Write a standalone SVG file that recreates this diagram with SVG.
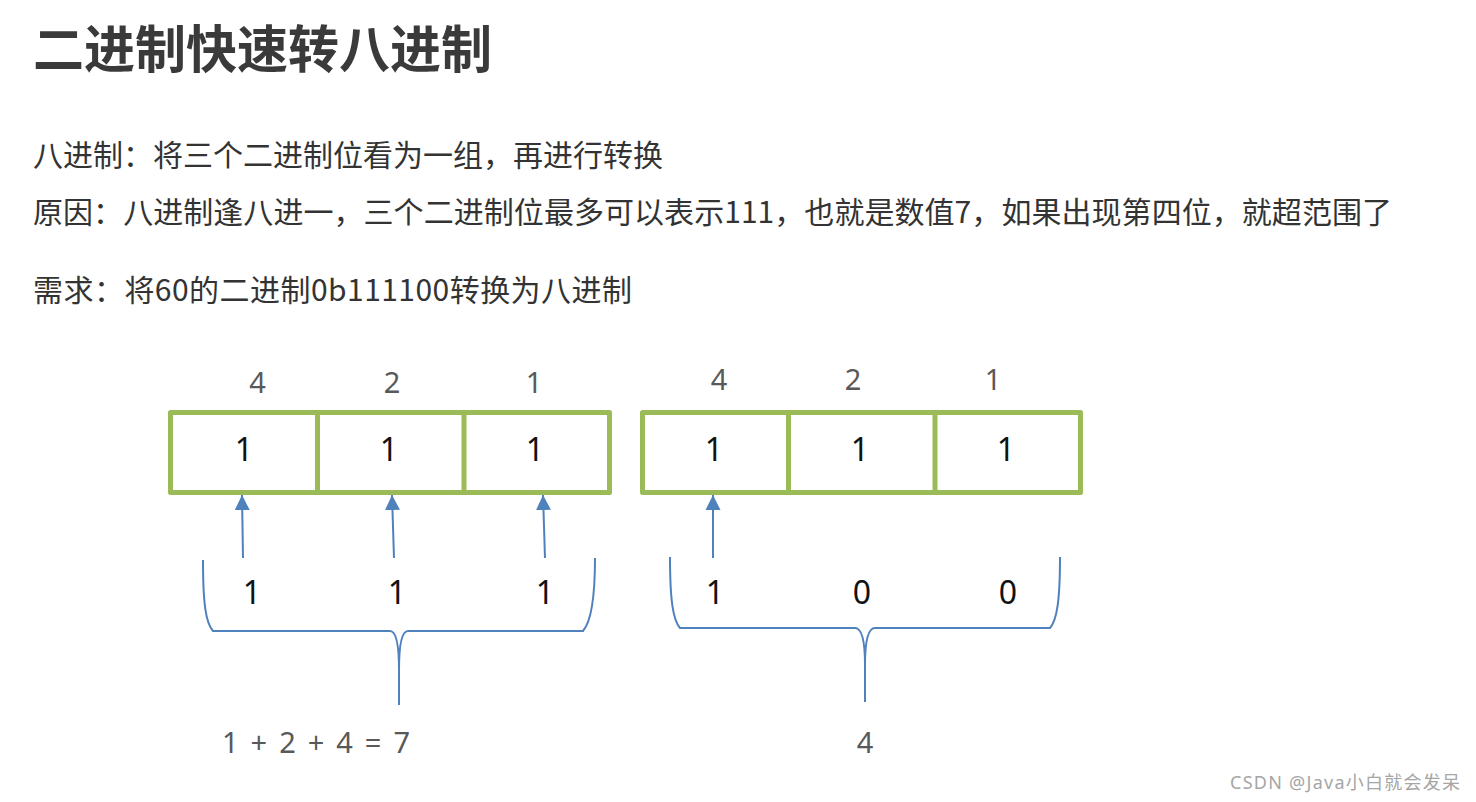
<svg xmlns="http://www.w3.org/2000/svg" width="1476" height="802" viewBox="0 0 1476 802">
<defs>
<marker id="ah" markerUnits="userSpaceOnUse" markerWidth="18" markerHeight="18" viewBox="0 0 18 18" refX="15" refY="9" orient="auto">
<path d="M0,1.5 L15,9 L0,16.5 Z" fill="#4f81bd"/>
</marker>
</defs>
<style>
.cjk{font-family:"Noto Sans CJK SC","Noto Sans",sans-serif;fill:#333}
.title{font-size:51px;font-weight:700;fill:#3a3a3a}
.body{font-size:30px}
.box{fill:#fff;stroke:#9bbb59;stroke-width:5;stroke-linejoin:round}
.div{stroke:#9bbb59;stroke-width:5}
.num{font-family:"Noto Sans","Open Sans",sans-serif;font-size:32px;fill:#111;text-anchor:middle}
.wt{font-family:"Noto Sans","Open Sans",sans-serif;font-size:29px;fill:#595959;text-anchor:middle}
.conn{fill:none;stroke:#4f81bd;stroke-width:2}
.wm{font-family:"Noto Sans","Noto Sans CJK SC",sans-serif;font-size:18px;fill:#a6a6a6}
</style>
<rect width="1476" height="802" fill="#fff"/>
<text class="cjk title" x="33" y="68">二进制快速转八进制</text>
<text class="cjk body" x="33" y="166">八进制：将三个二进制位看为一组，再进行转换</text>
<text class="cjk body" x="33" y="223" textLength="1359" lengthAdjust="spacing">原因：八进制逢八进一，三个二进制位最多可以表示111，也就是数值7，如果出现第四位，就超范围了</text>
<text class="cjk body" x="33" y="301" textLength="599" lengthAdjust="spacing">需求：将60的二进制0b111100转换为八进制</text>

<g id="left-box">
<rect class="box" x="170.5" y="412.5" width="439" height="80"/>
<line class="div" x1="317.5" y1="412.5" x2="317.5" y2="492.5"/>
<line class="div" x1="464" y1="412.5" x2="464" y2="492.5"/>
<text class="wt" x="257.5" y="393">4</text>
<text class="wt" x="392" y="393">2</text>
<text class="wt" x="534" y="393">1</text>
<text class="num" x="244" y="461">1</text>
<text class="num" x="389" y="461">1</text>
<text class="num" x="535" y="461">1</text>
</g>
<g id="right-box">
<rect class="box" x="642.5" y="412.5" width="438" height="80"/>
<line class="div" x1="788.5" y1="412.5" x2="788.5" y2="492.5"/>
<line class="div" x1="935" y1="412.5" x2="935" y2="492.5"/>
<text class="wt" x="719" y="390">4</text>
<text class="wt" x="853" y="390">2</text>
<text class="wt" x="993" y="390">1</text>
<text class="num" x="714" y="461">1</text>
<text class="num" x="860" y="461">1</text>
<text class="num" x="1006" y="461">1</text>
</g>
<g id="left-bits">
<text class="num" x="252" y="604">1</text>
<text class="num" x="397" y="604">1</text>
<text class="num" x="545" y="604">1</text>
</g>
<g id="right-bits">
<text class="num" x="715" y="604">1</text>
<text class="num" x="862" y="604">0</text>
<text class="num" x="1008" y="604">0</text>
</g>
<g id="left-result">
<text class="wt" x="222" y="753" style="text-anchor:start" textLength="188" lengthAdjust="spacing">1 + 2 + 4 = 7</text>
</g>
<g id="right-result">
<text class="wt" x="865" y="753">4</text>
</g>
<g id="connectors">
<line class="conn" x1="243" y1="558" x2="242" y2="495" marker-end="url(#ah)"/>
<line class="conn" x1="394" y1="558" x2="392" y2="495" marker-end="url(#ah)"/>
<line class="conn" x1="545" y1="558" x2="543" y2="495" marker-end="url(#ah)"/>
<line class="conn" x1="713" y1="558" x2="713" y2="495" marker-end="url(#ah)"/>
<path class="conn" d="M203,560 C203,605 206,623 213,631 L390,631 Q399,631 399,670 L399,705 M399,670 Q399,631 408,631 L583,631 C590,623 595,605 595,558"/>
<path class="conn" d="M670,557 C670,600 673,620 680,628 L855,628 Q865,628 865,665 L865,702 M865,665 Q865,628 875,628 L1050,628 C1057,620 1060,600 1060,557"/>
</g>
<text class="wm" x="1230" y="789" textLength="230" lengthAdjust="spacing">CSDN @Java小白就会发呆</text>
</svg>
